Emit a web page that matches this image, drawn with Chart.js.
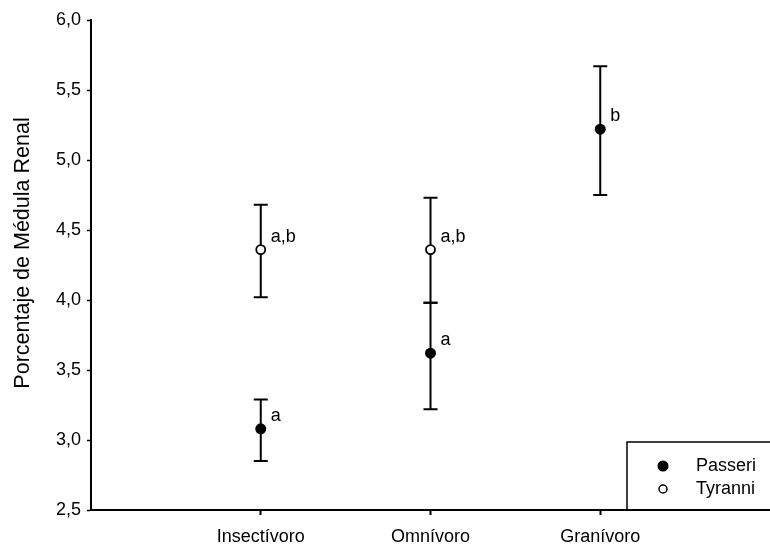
<!DOCTYPE html>
<html><head><meta charset="utf-8">
<script src="https://cdn.jsdelivr.net/npm/chart.js@4"></script>
<style>html,body{margin:0;padding:0;background:#fff}#wrap{width:770px;height:551px}</style>
</head><body><div id="wrap"><canvas id="c" width="770" height="551"></canvas></div>
<script>
// ---- data ----
const categories = ['Insectívoro', 'Omnívoro', 'Granívoro'];
const categoryPositions = [1, 2, 3];
const seriesNames = ['Passeri', 'Tyranni'];
const passeriMean = [3.08, 3.62, 5.22];
const passeriLow = [2.85, 3.22, 4.75];
const passeriHigh = [3.29, 3.98, 5.67];
const passeriLetters = ['a', 'a', 'b'];
const tyranniMean = [4.36, 4.36, null];
const tyranniLow = [4.02, 3.98, null];
const tyranniHigh = [4.68, 4.73, null];
const tyranniLetters = ['a,b', 'a,b', null];
const yTicks = [2.5, 3.0, 3.5, 4.0, 4.5, 5.0, 5.5, 6.0];
const yTitle = 'Porcentaje de Médula Renal';

const FONT = '"Liberation Sans", Arial, Helvetica, sans-serif';

function buildPoints(mean, low, high, letters) {
  const out = [];
  categoryPositions.forEach((x, i) => {
    if (mean[i] == null) return;
    out.push({ x: x, y: mean[i], lo: low[i], hi: high[i], letter: letters[i] });
  });
  return out;
}

const errorBarPlugin = {
  id: 'errorBars',
  beforeDatasetsDraw(chart) {
    const ctx = chart.ctx;
    const xs = chart.scales.x, ys = chart.scales.y;
    ctx.save();
    ctx.strokeStyle = '#000';
    ctx.lineWidth = 2;
    chart.data.datasets.forEach(ds => {
      ds.data.forEach(p => {
        const px = xs.getPixelForValue(p.x);
        const yl = ys.getPixelForValue(p.lo);
        const yh = ys.getPixelForValue(p.hi);
        ctx.beginPath();
        ctx.moveTo(px, yl); ctx.lineTo(px, yh);
        ctx.moveTo(px - 7, yl); ctx.lineTo(px + 7, yl);
        ctx.moveTo(px - 7, yh); ctx.lineTo(px + 7, yh);
        ctx.stroke();
      });
    });
    ctx.restore();
  },
  afterDatasetsDraw(chart) {
    const ctx = chart.ctx;
    const xs = chart.scales.x, ys = chart.scales.y;
    ctx.save();
    ctx.fillStyle = '#000';
    ctx.font = '18px ' + FONT;
    ctx.textAlign = 'left';
    ctx.textBaseline = 'middle';
    chart.data.datasets.forEach(ds => {
      ds.data.forEach(p => {
        if (!p.letter) return;
        ctx.fillText(p.letter, xs.getPixelForValue(p.x) + 10, ys.getPixelForValue(p.y) - 13);
      });
    });
    ctx.restore();
  },
  afterDraw(chart) {
    const ctx = chart.ctx;
    const a = chart.chartArea;
    // y-axis title
    ctx.save();
    ctx.translate(23, (a.top + a.bottom) / 2 - 12);
    ctx.rotate(-Math.PI / 2);
    ctx.font = '21.5px ' + FONT;
    ctx.fillStyle = '#000';
    ctx.textAlign = 'center';
    ctx.textBaseline = 'middle';
    ctx.fillText(yTitle, 0, 0);
    ctx.restore();
    // legend
    const left = a.right - 143, top = a.bottom - 68;
    ctx.save();
    ctx.strokeStyle = '#000';
    ctx.lineWidth = 1.5;
    ctx.beginPath();
    ctx.moveTo(left, a.bottom);
    ctx.lineTo(left, top);
    ctx.lineTo(a.right + 5, top);
    ctx.stroke();
    ctx.font = '18px ' + FONT;
    ctx.textBaseline = 'middle';
    ctx.textAlign = 'left';
    chart.data.datasets.forEach((ds, i) => {
      const cy = top + 24 + i * 23;
      ctx.beginPath();
      ctx.arc(left + 36, cy, ds.borderWidth ? 4 : 5.5, 0, Math.PI * 2);
      ctx.fillStyle = ds.backgroundColor;
      ctx.fill();
      if (ds.borderWidth) { ctx.lineWidth = 1.5; ctx.strokeStyle = '#000'; ctx.stroke(); }
      ctx.fillStyle = '#000';
      ctx.fillText(ds.label, left + 69, cy);
    });
    ctx.restore();
  }
};

new Chart(document.getElementById('c'), {
  type: 'scatter',
  data: {
    datasets: [
      {
        label: seriesNames[0],
        data: buildPoints(passeriMean, passeriLow, passeriHigh, passeriLetters),
        pointStyle: 'circle', pointRadius: 5.5, backgroundColor: '#000', borderColor: '#000', borderWidth: 0
      },
      {
        label: seriesNames[1],
        data: buildPoints(tyranniMean, tyranniLow, tyranniHigh, tyranniLetters),
        pointStyle: 'circle', pointRadius: 4.5, backgroundColor: '#fff', borderColor: '#000', borderWidth: 1.8
      }
    ]
  },
  options: {
    responsive: false,
    devicePixelRatio: 1,
    animation: false,
    layout: { autoPadding: false, padding: { top: 20, right: 0, left: 0, bottom: 0 } },
    plugins: { legend: { display: false }, tooltip: { enabled: false } },
    scales: {
      x: {
        type: 'linear', min: 0, max: 4,
        afterBuildTicks: s => { s.ticks = categoryPositions.map(v => ({ value: v })); },
        afterFit: s => { s.height = 41; s.paddingRight = 0; s.paddingLeft = 0; },
        ticks: {
          color: '#000', font: { family: FONT, size: 18 }, padding: 11, maxRotation: 0, autoSkip: false,
          callback: v => { const i = categoryPositions.indexOf(v); return i >= 0 ? categories[i] : ''; }
        },
        grid: { drawOnChartArea: false, drawTicks: true, tickLength: 5, color: '#000', tickWidth: 2 },
        border: { display: true, color: '#000', width: 2 }
      },
      y: {
        min: 2.5, max: 6,
        afterBuildTicks: s => { s.ticks = yTicks.map(v => ({ value: v })); },
        afterFit: s => { s.width = 91; s.paddingTop = 0; s.paddingBottom = 0; },
        ticks: {
          color: '#000', font: { family: FONT, size: 18 }, padding: 6,
          callback: v => Number(v).toFixed(1).replace('.', ',')
        },
        grid: { drawOnChartArea: false, drawTicks: true, tickLength: 4, color: '#000', tickWidth: 1.5 },
        border: { display: true, color: '#000', width: 2 }
      }
    }
  },
  plugins: [errorBarPlugin]
});
</script>
</body></html>
